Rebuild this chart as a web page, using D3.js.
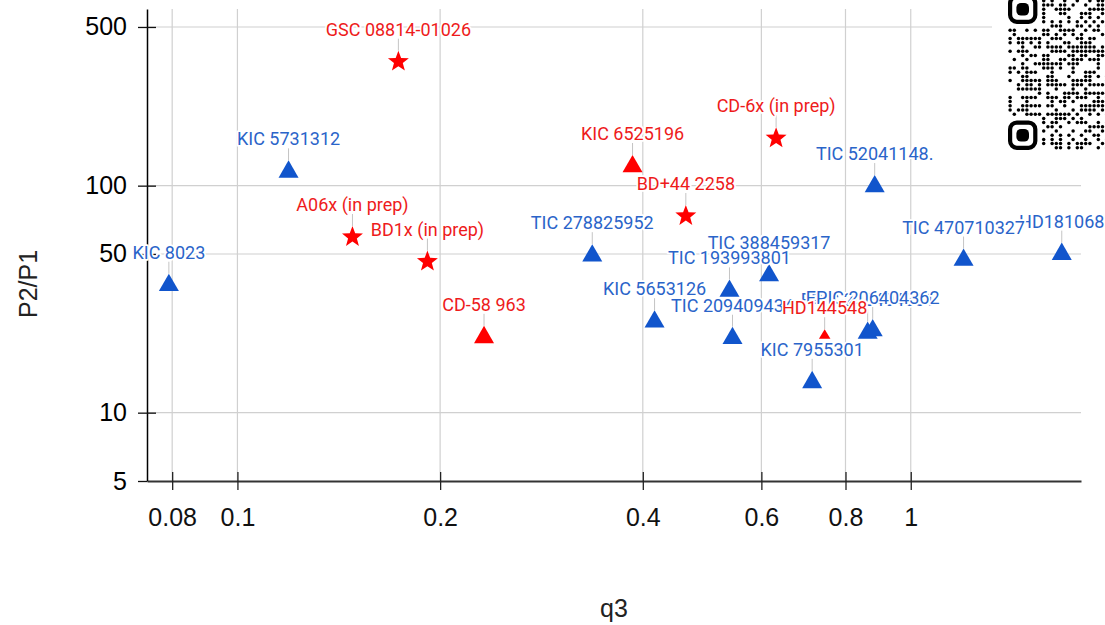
<!DOCTYPE html>
<html>
<head>
<meta charset="utf-8">
<script src="https://cdn.jsdelivr.net/npm/d3@7"></script>
<style>
  html, body { margin: 0; padding: 0; background: #fff; }
  svg { display: block; }
</style>
</head>
<body>
<svg id="chart" width="1105" height="625"></svg>
<script>
// Period ratio P2/P1 against outer mass ratio q3 (log–log)

// Axis limits and tick values
const xDomain = [0.0734, 1.79];
const yDomain = [5, 600];
const xTicks = [0.08, 0.1, 0.2, 0.4, 0.6, 0.8, 1];
const yTicks = [5, 10, 50, 100, 500];

// Blue triangles – systems from the literature
const blueNames = ["KIC 8023", "KIC 5731312", "TIC 278825952", "KIC 5653126",
  "TIC 193993801", "TIC 388459317", "TIC 209409434", "KIC 7955301",
  "EPIC 206404361", "EPIC 206404362", "TIC 52041148.", "HD181068", "TIC 470710327"];
const blueQ3 = [0.0791, 0.1191, 0.3365, 0.4164, 0.538, 0.616, 0.5436, 0.7138,
  0.863, 0.878, 0.884, 1.676, 1.198];
const blueRatio = [37.5, 118.4, 50.6, 25.9, 35.4, 41.4, 21.9, 14.0,
  23.1, 23.7, 102, 51.4, 48.4];

// Red stars – new systems
const starNames = ["GSC 08814-01026", "A06x (in prep)", "BD1x (in prep)", "BD+44 2258", "CD-6x (in prep)"];
const starQ3 = [0.1734, 0.1482, 0.1915, 0.4634, 0.631];
const starRatio = [351.6, 59.4, 46.3, 73.5, 161.7];

// Red triangles
const redTriNames = ["CD-58 963", "KIC 6525196"];
const redTriQ3 = [0.2324, 0.3862];
const redTriRatio = [22.1, 125];

// Red small triangle
const redSmallNames = ["HD144548"];
const redSmallQ3 = [0.745];
const redSmallRatio = [22.2];

const svg = d3.select("#chart");
const W = 1105, H = 625;
const plot = { left: 147, right: 1081, top: 9, bottom: 481 };

const x = d3.scaleLog().domain(xDomain).range([plot.left, plot.right]);
const y = d3.scaleLog().domain(yDomain).range([plot.bottom, plot.top]);

const BLUE = "#1155cc", BLUE_TEXT = "#2a64c9";
const RED = "#ff0000", RED_TEXT = "#ee1b1b";
const AXIS_FONT = "Liberation Sans, Arial, sans-serif";

// grid
const grid = svg.append("g").attr("class", "grid");
grid.selectAll("line.vx").data(xTicks).join("line")
  .attr("x1", d => x(d)).attr("x2", d => x(d))
  .attr("y1", plot.top).attr("y2", plot.bottom)
  .attr("stroke", "#d0d0d0").attr("stroke-width", 1.2);
grid.selectAll("line.hy").data(yTicks.filter(d => d !== 5)).join("line")
  .attr("x1", plot.left).attr("x2", plot.right)
  .attr("y1", d => y(d)).attr("y2", d => y(d))
  .attr("stroke", "#d0d0d0").attr("stroke-width", 1.2);

// axes
const xAxis = d3.axisBottom(x).tickValues(xTicks).tickFormat(d3.format("~g"))
  .tickSizeInner(9).tickSizeOuter(0).tickPadding(18);
const gx = svg.append("g").attr("transform", `translate(0,${plot.bottom})`).call(xAxis);
gx.select(".domain").attr("stroke", "#333").attr("stroke-width", 2);
gx.selectAll(".tick line").attr("y1", -9).attr("y2", 9).attr("stroke", "#222").attr("stroke-width", 1.3);
gx.selectAll(".tick text").attr("font-family", AXIS_FONT)
  .attr("font-size", 25).attr("fill", "#111");

const yAxis = d3.axisLeft(y).tickValues(yTicks).tickFormat(d3.format("~g"))
  .tickSizeInner(9).tickSizeOuter(0).tickPadding(11);
const gy = svg.append("g").attr("transform", `translate(${plot.left},0)`).call(yAxis);
gy.select(".domain").attr("stroke", "#000").attr("stroke-width", 1.5);
gy.selectAll(".tick line").attr("x1", -9).attr("x2", 9).attr("stroke", "#111").attr("stroke-width", 1.3);
gy.selectAll(".tick text").attr("font-family", AXIS_FONT)
  .attr("font-size", 25).attr("fill", "#000");
gy.selectAll(".tick").filter(d => d === 5).select("line").attr("x2", 0);

// axis titles
svg.append("text").attr("x", (plot.left + plot.right) / 2).attr("y", 617)
  .attr("text-anchor", "middle").attr("font-family", AXIS_FONT)
  .attr("font-size", 25).attr("fill", "#222").text("q3");
svg.append("text").attr("transform", "translate(37,284) rotate(-90)")
  .attr("text-anchor", "middle").attr("font-family", AXIS_FONT)
  .attr("font-size", 25).attr("fill", "#222").text("P2/P1");

// marker shapes: path plus distance from the point to the shape's top
function trianglePath(w, h) {
  return `M0,${-h / 2}L${w / 2},${h / 2}L${-w / 2},${h / 2}Z`;
}
function starPath(R, ratio) {
  const pts = [];
  for (let i = 0; i < 10; i++) {
    const r = i % 2 === 0 ? R : R * ratio;
    const a = -Math.PI / 2 + i * Math.PI / 5;
    pts.push([r * Math.cos(a), r * Math.sin(a)]);
  }
  return "M" + pts.map(p => p.map(v => v.toFixed(2)).join(",")).join("L") + "Z";
}

const shapes = {
  tri: { path: trianglePath(20, 17.3), top: 8.65 },
  star: { path: starPath(11, 0.42), top: 11 },
  small: { path: trianglePath(11.5, 9.6), top: 4.8 }
};

function series(names, q, r, shape, color, textColor) {
  return names.map((n, i) => ({ name: n, q3: q[i], ratio: r[i], shape, color, textColor }));
}

const blue = series(blueNames, blueQ3, blueRatio, "tri", BLUE, BLUE_TEXT);
const red = [
  ...series(starNames, starQ3, starRatio, "star", RED, RED_TEXT),
  ...series(redTriNames, redTriQ3, redTriRatio, "tri", RED, RED_TEXT),
  ...series(redSmallNames, redSmallQ3, redSmallRatio, "small", RED, RED_TEXT)
];
const all = [...blue, ...red];

// annotation stems
svg.append("g").selectAll("line").data(all).join("line")
  .attr("x1", d => x(d.q3)).attr("x2", d => x(d.q3))
  .attr("y1", d => y(d.ratio) - shapes[d.shape].top - 12)
  .attr("y2", d => y(d.ratio) - shapes[d.shape].top)
  .attr("stroke", "#c4c4c4").attr("stroke-width", 1);

// markers
svg.append("g").selectAll("path").data(all).join("path")
  .attr("d", d => shapes[d.shape].path)
  .attr("transform", d => `translate(${x(d.q3)},${y(d.ratio)})`)
  .attr("fill", d => d.color);

// annotation labels
svg.append("g").selectAll("text").data(all).join("text")
  .attr("x", d => x(d.q3))
  .attr("y", d => y(d.ratio) - shapes[d.shape].top - 15)
  .attr("text-anchor", "middle")
  .attr("font-family", "Roboto, sans-serif").attr("font-size", 18)
  .attr("fill", d => d.textColor)
  .attr("stroke", "#fff").attr("stroke-width", 3.5).attr("stroke-linejoin", "round")
  .attr("paint-order", "stroke")
  .text(d => d.name);

// QR badge in the top-right corner
const qr = svg.append("g").attr("class", "qr");
const m = 4.2, qx = 1008, qy = -5.5, qn = 37, visibleCols = 24;
qr.append("rect").attr("x", 992).attr("y", 0).attr("width", W - 992).attr("height", 162).attr("fill", "#fff");
function inFinder(r, c) {
  return (r < 8 && c < 8) || (r >= qn - 8 && c < 8) || (r < 8 && c >= qn - 8);
}
const cells = [];
for (let r = 0; r < qn; r++) {
  for (let c = 0; c < visibleCols; c++) {
    if (inFinder(r, c)) continue;
    let on;
    if (r === 6) on = c % 2 === 0;
    else if (c === 6) on = r % 2 === 0;
    else {
      let h = (r * 73856093) ^ (c * 19349663) ^ ((r + c) * 83492791);
      h = (h ^ (h >>> 13)) * 1274126177;
      h = h ^ (h >>> 16);
      on = (h & 7) < 4;
    }
    if (on) cells.push([r, c]);
  }
}
qr.selectAll("circle").data(cells).join("circle")
  .attr("cx", d => qx + (d[1] + 0.5) * m)
  .attr("cy", d => qy + (d[0] + 0.5) * m)
  .attr("r", 1.75).attr("fill", "#000");
[[0, 0], [qn - 7, 0]].forEach(([r, c]) => {
  qr.append("rect")
    .attr("x", qx + c * m + m / 2).attr("y", qy + r * m + m / 2)
    .attr("width", 6 * m).attr("height", 6 * m).attr("rx", 1.6 * m)
    .attr("fill", "none").attr("stroke", "#000").attr("stroke-width", m);
  qr.append("rect")
    .attr("x", qx + (c + 2) * m).attr("y", qy + (r + 2) * m)
    .attr("width", 3 * m).attr("height", 3 * m).attr("rx", 1.1 * m)
    .attr("fill", "#000");
});
</script>
</body>
</html>
